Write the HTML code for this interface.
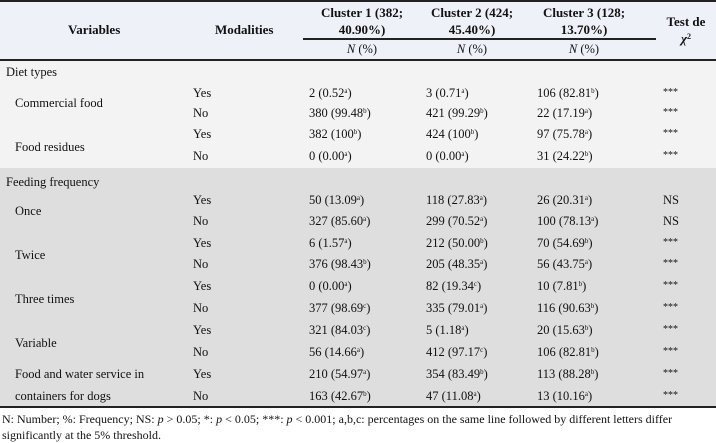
<!DOCTYPE html>
<html><head><meta charset="utf-8"><style>
body{margin:0;width:716px;height:443px;background:#fff;font-family:"Liberation Serif",serif;font-size:12.5px;color:#111;position:relative;overflow:hidden}
div{position:absolute;white-space:nowrap}
.b{font-weight:bold;font-size:13px}
.c{text-align:center}
sup{font-size:7px;vertical-align:4px;line-height:0}
</style></head><body>
<div style="left:0;top:0;width:716px;height:59px;background:#eef2f8"></div>
<div style="left:0;top:0;width:716px;height:2px;background:#222"></div>
<div style="left:0;top:59px;width:716px;height:2px;background:#222"></div>
<div style="left:0;top:61px;width:716px;height:107px;background:#f3f3f3"></div>
<div style="left:0;top:168px;width:716px;height:238px;background:#dedede"></div>
<div style="left:0;top:406px;width:716px;height:2px;background:#222"></div>
<div style="left:303px;top:38px;width:353px;height:2px;background:#222"></div>

<div class="b" style="left:68px;top:22px">Variables</div>
<div class="b" style="left:215px;top:22px">Modalities</div>
<div class="b c" style="left:312px;top:4px;width:100px;line-height:17px">Cluster 1 (382;<br>40.90%)</div>
<div class="b c" style="left:422px;top:4px;width:100px;line-height:17px">Cluster 2 (424;<br>45.40%)</div>
<div class="b c" style="left:534px;top:4px;width:100px;line-height:17px">Cluster 3 (128;<br>13.70%)</div>
<div class="b c" style="left:656px;top:13px;width:60px;line-height:17px">Test de<br><i>χ</i><sup style="font-size:8px">2</sup></div>
<div class="c" style="left:312px;top:42px;width:100px"><i>N</i> (%)</div>
<div class="c" style="left:422px;top:42px;width:100px"><i>N</i> (%)</div>
<div class="c" style="left:534px;top:42px;width:100px"><i>N</i> (%)</div>

<div style="left:6px;top:65px">Diet types</div>
<div style="left:15px;top:96px">Commercial food</div>
<div style="left:15px;top:140px">Food residues</div>
<div style="left:6px;top:175px">Feeding frequency</div>
<div style="left:15px;top:204px">Once</div>
<div style="left:15px;top:248px">Twice</div>
<div style="left:15px;top:292px">Three times</div>
<div style="left:15px;top:336px">Variable</div>
<div style="left:15px;top:367px">Food and water service in</div>
<div style="left:15px;top:389px">containers for dogs</div>

<div id="rows"></div>
<script>
var r=[
[86,"Yes","2 (0.52<sup>a</sup>)","3 (0.71<sup>a</sup>)","106 (82.81<sup>b</sup>)","***"],
[106,"No","380 (99.48<sup>b</sup>)","421 (99.29<sup>b</sup>)","22 (17.19<sup>a</sup>)","***"],
[127,"Yes","382 (100<sup>b</sup>)","424 (100<sup>b</sup>)","97 (75.78<sup>a</sup>)","***"],
[149,"No","0 (0.00<sup>a</sup>)","0 (0.00<sup>a</sup>)","31 (24.22<sup>b</sup>)","***"],
[193,"Yes","50 (13.09<sup>a</sup>)","118 (27.83<sup>a</sup>)","26 (20.31<sup>a</sup>)","NS"],
[214,"No","327 (85.60<sup>a</sup>)","299 (70.52<sup>a</sup>)","100 (78.13<sup>a</sup>)","NS"],
[236,"Yes","6 (1.57<sup>a</sup>)","212 (50.00<sup>b</sup>)","70 (54.69<sup>b</sup>)","***"],
[257,"No","376 (98.43<sup>b</sup>)","205 (48.35<sup>a</sup>)","56 (43.75<sup>a</sup>)","***"],
[279,"Yes","0 (0.00<sup>a</sup>)","82 (19.34<sup>c</sup>)","10 (7.81<sup>b</sup>)","***"],
[301,"No","377 (98.69<sup>c</sup>)","335 (79.01<sup>a</sup>)","116 (90.63<sup>b</sup>)","***"],
[323,"Yes","321 (84.03<sup>c</sup>)","5 (1.18<sup>a</sup>)","20 (15.63<sup>b</sup>)","***"],
[345,"No","56 (14.66<sup>a</sup>)","412 (97.17<sup>c</sup>)","106 (82.81<sup>b</sup>)","***"],
[367,"Yes","210 (54.97<sup>a</sup>)","354 (83.49<sup>b</sup>)","113 (88.28<sup>b</sup>)","***"],
[389,"No","163 (42.67<sup>b</sup>)","47 (11.08<sup>a</sup>)","13 (10.16<sup>a</sup>)","***"]];
var h="";r.forEach(function(x){var t=x[0];
h+='<div style="left:193px;top:'+t+'px">'+x[1]+'</div>';
h+='<div style="left:309px;top:'+t+'px">'+x[2]+'</div>';
h+='<div style="left:426px;top:'+t+'px">'+x[3]+'</div>';
h+='<div style="left:537px;top:'+t+'px">'+x[4]+'</div>';
h+='<div style="left:663px;top:'+t+'px;'+(x[5]=="***"?'font-size:10px;padding-top:1px':'')+'">'+x[5]+'</div>';});
document.getElementById("rows").outerHTML=h;
</script>
<div style="left:2px;top:412px;font-size:12px">N: Number; %: Frequency; NS: <i>p</i> &gt; 0.05; *: <i>p</i> &lt; 0.05; ***: <i>p</i> &lt; 0.001; a,b,c: percentages on the same line followed by different letters differ</div>
<div style="left:2px;top:428px;font-size:12px">significantly at the 5% threshold.</div>
</body></html>
